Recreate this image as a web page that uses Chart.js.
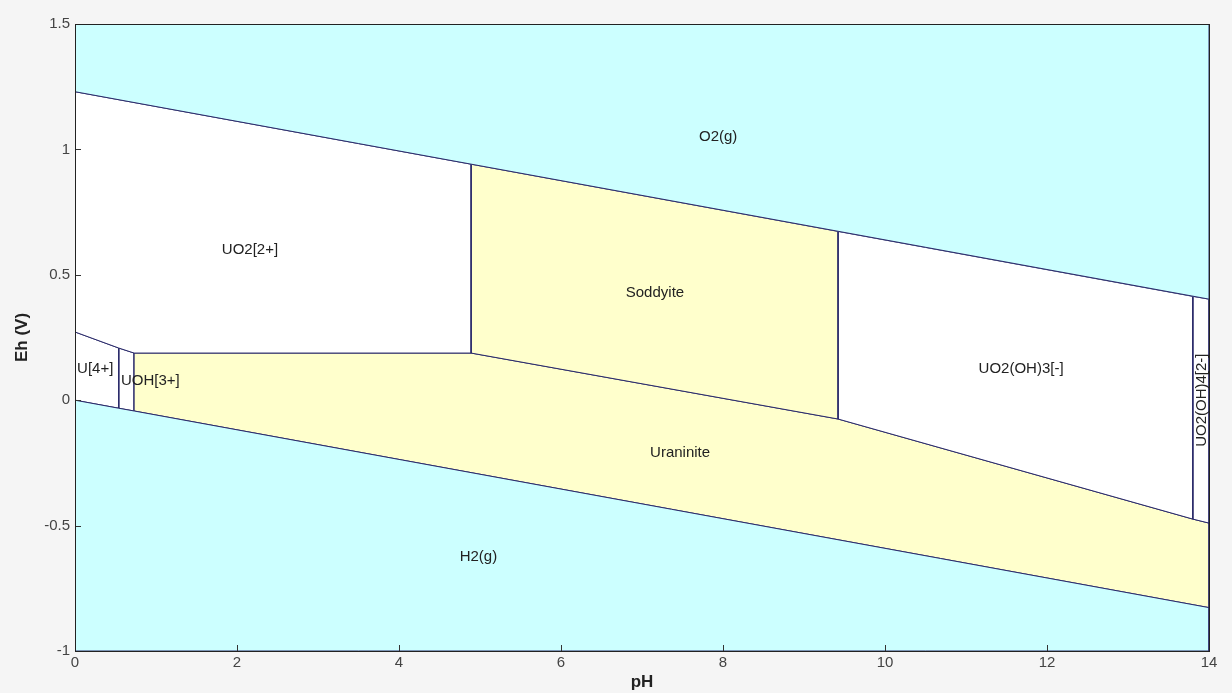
<!DOCTYPE html>
<html>
<head>
<meta charset="utf-8">
<script src="https://cdn.jsdelivr.net/npm/chart.js@4"></script>
<style>
  html, body { margin: 0; padding: 0; background: #f5f5f5; }
  #wrap { width: 1232px; height: 693px; }
</style>
</head>
<body>
<div id="wrap"><canvas id="eh-chart" width="1232" height="693"></canvas></div>
<script>
// stability fields, [pH, Eh] corners
let o2Field = [[0, 1.23], [14, 0.403], [14, 1.5], [0, 1.5], [0, 1.23]];
let h2Field = [[0, 0], [0.54, -0.032], [0.73, -0.043], [14, -0.827], [14, -1], [0, -1], [0, 0]];
let uo2Field = [[0, 1.23], [4.89, 0.941], [4.89, 0.188], [0.73, 0.188], [0.54, 0.208], [0, 0.272], [0, 1.23]];
let soddyiteField = [[4.89, 0.941], [9.42, 0.673], [9.42, -0.075], [4.89, 0.188], [4.89, 0.941]];
let uo2oh3Field = [[9.42, 0.673], [13.8, 0.414], [13.8, -0.474], [9.42, -0.075], [9.42, 0.673]];
let uo2oh4Field = [[13.8, 0.414], [14, 0.403], [14, -0.49], [13.8, -0.474], [13.8, 0.414]];
let uraniniteField = [[0.73, 0.188], [4.89, 0.188], [9.42, -0.075], [13.8, -0.474], [14, -0.49], [14, -0.827], [0.73, -0.043], [0.73, 0.188]];
let u4Field = [[0, 0.272], [0.54, 0.208], [0.54, -0.032], [0, 0], [0, 0.272]];
let uoh3Field = [[0.54, 0.208], [0.73, 0.188], [0.73, -0.043], [0.54, -0.032], [0.54, 0.208]];

let labelNames = ['O2(g)', 'UO2[2+]', 'Soddyite', 'UO2(OH)3[-]', 'Uraninite', 'H2(g)', 'U[4+]', 'UOH[3+]', 'UO2(OH)4[2-]'];
let labelPH = [7.94, 2.16, 7.16, 11.68, 7.47, 4.98, 0.25, 0.93, 13.91];
let labelEh = [1.05, 0.6, 0.427, 0.124, -0.21, -0.625, 0.124, 0.076, 0.0];

let xTicks = [0, 2, 4, 6, 8, 10, 12, 14];
let yTicks = [-1, -0.5, 0, 0.5, 1, 1.5];

const CYAN = '#ccffff', YELLOW = '#ffffcc', WHITE = '#ffffff', EDGE = '#2a2a6a';
const FONT = '"Liberation Sans", Arial, sans-serif';

function field(points, color) {
    return {
        data: points.map(function (p) { return { x: p[0], y: p[1] }; }),
        showLine: true,
        fill: 'shape',
        backgroundColor: color,
        borderColor: EDGE,
        borderWidth: 1,
        pointRadius: 0,
        tension: 0
    };
}

// labels, inside ticks and the box around the plot
const extras = {
    id: 'extras',
    afterDatasetsDraw: function (chart) {
        const ctx = chart.ctx, xs = chart.scales.x, ys = chart.scales.y;
        const a = chart.chartArea;
        ctx.save();
        ctx.fillStyle = '#222';
        ctx.font = '15px ' + FONT;
        ctx.textAlign = 'center';
        ctx.textBaseline = 'middle';
        labelNames.forEach(function (name, i) {
            const px = xs.getPixelForValue(labelPH[i]);
            const py = ys.getPixelForValue(labelEh[i]);
            if (name === 'UO2(OH)4[2-]') {
                ctx.save();
                ctx.translate(px, py);
                ctx.rotate(-Math.PI / 2);
                ctx.fillText(name, 0, 0);
                ctx.restore();
            } else {
                ctx.fillText(name, px, py);
            }
        });

        ctx.strokeStyle = '#333';
        ctx.lineWidth = 1;
        ctx.beginPath();
        xTicks.forEach(function (t) {
            const px = Math.round(xs.getPixelForValue(t)) + 0.5;
            ctx.moveTo(px, a.bottom); ctx.lineTo(px, a.bottom - 6);
        });
        yTicks.forEach(function (t) {
            const py = Math.round(ys.getPixelForValue(t)) + 0.5;
            ctx.moveTo(a.left, py); ctx.lineTo(a.left + 6, py);
        });
        ctx.stroke();

        ctx.strokeStyle = '#222';
        ctx.strokeRect(Math.round(a.left) + 0.5, Math.round(a.top) + 0.5,
            Math.round(a.right - a.left), Math.round(a.bottom - a.top));
        ctx.restore();
    }
};

const chart = new Chart(document.getElementById('eh-chart'), {
    type: 'scatter',
    data: {
        datasets: [
            field(o2Field, CYAN),
            field(h2Field, CYAN),
            field(uo2Field, WHITE),
            field(soddyiteField, YELLOW),
            field(uo2oh3Field, WHITE),
            field(uo2oh4Field, WHITE),
            field(uraniniteField, YELLOW),
            field(u4Field, WHITE),
            field(uoh3Field, WHITE)
        ]
    },
    options: {
        responsive: false,
        animation: false,
        events: [],
        layout: { padding: { top: 24, right: 23, left: 0, bottom: 0 } },
        plugins: {
            legend: { display: false },
            tooltip: { enabled: false }
        },
        scales: {
            x: {
                type: 'linear',
                min: 0, max: 14,
                afterFit: function (s) { s.height = 42; },
                afterBuildTicks: function (s) { s.ticks = xTicks.map(function (v) { return { value: v }; }); },
                grid: { display: false, drawTicks: false, tickLength: 0 },
                border: { display: false },
                ticks: {
                    padding: 3,
                    color: '#444',
                    font: { family: FONT, size: 15 }
                },
                title: {
                    display: true,
                    text: 'pH',
                    color: '#222',
                    padding: { top: 0, bottom: 0 },
                    font: { family: FONT, size: 17, weight: 'bold' }
                }
            },
            y: {
                type: 'linear',
                min: -1, max: 1.5,
                afterFit: function (s) { s.width = 75; },
                afterBuildTicks: function (s) { s.ticks = yTicks.map(function (v) { return { value: v }; }); },
                grid: { display: false, drawTicks: false, tickLength: 0 },
                border: { display: false },
                ticks: {
                    padding: 5,
                    color: '#444',
                    font: { family: FONT, size: 15 },
                    callback: function (v) { return String(v); }
                },
                title: {
                    display: true,
                    text: 'Eh (V)',
                    color: '#222',
                    padding: { top: 12, bottom: 0 },
                    font: { family: FONT, size: 17, weight: 'bold' }
                }
            }
        }
    },
    plugins: [extras]
});
</script>
</body>
</html>
